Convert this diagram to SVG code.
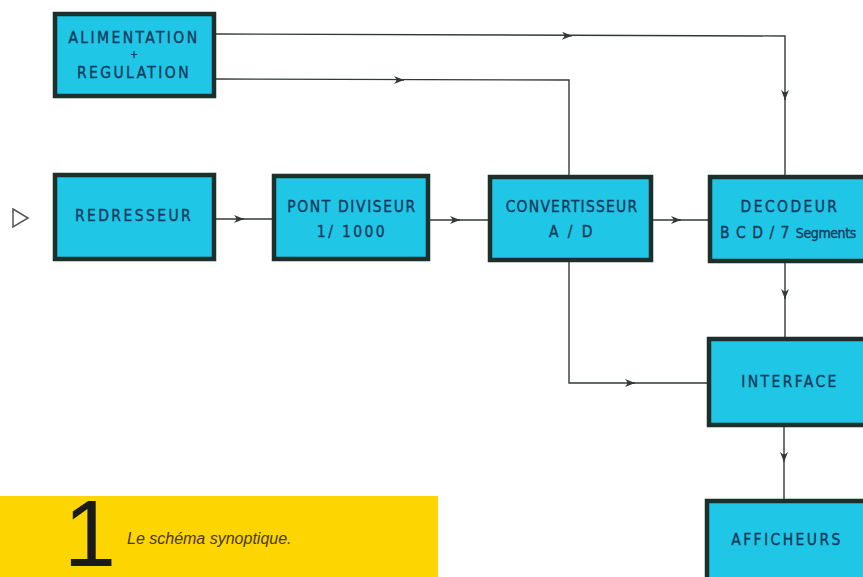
<svg xmlns="http://www.w3.org/2000/svg" width="863" height="577" viewBox="0 0 863 577">
<style>
.box{fill:#1fc6e6;stroke:#1b2f2b;stroke-width:4.5}
.t{font-family:"DejaVu Sans Condensed","DejaVu Sans",sans-serif;font-size:15.5px;fill:#163a5c;stroke:#163a5c;stroke-width:0.35;text-anchor:middle;letter-spacing:2.4px}
.c{fill:none;stroke:#333a36;stroke-width:1.4}
</style>
<defs>
<marker id="a" markerWidth="12" markerHeight="10" refX="10" refY="4.5" orient="auto" markerUnits="userSpaceOnUse">
<path d="M0,0.5 L10,4.5 L0,8.5 L3,4.5 Z" fill="#333a36"/>
</marker>
</defs>
<rect width="863" height="577" fill="#fff"/>
<g id="connectors">
<path class="c" d="M216,34 L785,36 L785,175"/>
<path class="c" d="M564,35.7 L572,35.8" marker-end="url(#a)"/>
<path class="c" d="M785,92 L785,100" marker-end="url(#a)"/>
<path class="c" d="M216,79 L569,80 L569,175"/>
<path class="c" d="M396,80 L404,80" marker-end="url(#a)"/>
<path class="c" d="M216,219 L272,219"/>
<path class="c" d="M236,219 L244,219" marker-end="url(#a)"/>
<path class="c" d="M430,220 L488,220"/>
<path class="c" d="M452,220 L460,220" marker-end="url(#a)"/>
<path class="c" d="M653,220 L708,220"/>
<path class="c" d="M673,220 L681,220" marker-end="url(#a)"/>
<path class="c" d="M785,263 L785,337"/>
<path class="c" d="M785,291 L785,299" marker-end="url(#a)"/>
<path class="c" d="M569,262 L569,383 L707,383"/>
<path class="c" d="M627,383 L635,383" marker-end="url(#a)"/>
<path class="c" d="M784,427 L784,499"/>
<path class="c" d="M784,454 L784,462" marker-end="url(#a)"/>
</g>
<g id="input">
<path d="M13,209 L28,218 L13,227 Z" fill="none" stroke="#555" stroke-width="1.5"/>
</g>
<g id="alimentation">
<rect class="box" x="55" y="14" width="159" height="82"/>
<text class="t" x="134" y="43">ALIMENTATION</text>
<text class="t" x="134" y="58" style="font-size:10px;letter-spacing:0">+</text>
<text class="t" x="134" y="78">REGULATION</text>
</g>
<g id="redresseur">
<rect class="box" x="55" y="175" width="159" height="84"/>
<text class="t" x="134" y="221">REDRESSEUR</text>
</g>
<g id="pont">
<rect class="box" x="274" y="176" width="154" height="83"/>
<text class="t" x="352" y="212" style="letter-spacing:1.6px">PONT DIVISEUR</text>
<text class="t" x="352" y="237">1/ 1000</text>
</g>
<g id="convertisseur">
<rect class="box" x="490" y="177" width="161" height="83"/>
<text class="t" x="572" y="212" style="letter-spacing:1.2px">CONVERTISSEUR</text>
<text class="t" x="572" y="237">A / D</text>
</g>
<g id="decodeur">
<rect class="box" x="710" y="177" width="160" height="84"/>
<text class="t" x="790" y="212">DECODEUR</text>
<text class="t" x="788" y="238" style="letter-spacing:1px">B C D / 7 <tspan style="font-size:14px;letter-spacing:-0.4px">Segments</tspan></text>
</g>
<g id="interface">
<rect class="box" x="709" y="339" width="160" height="86"/>
<text class="t" x="790" y="387">INTERFACE</text>
</g>
<g id="afficheurs">
<rect class="box" x="707" y="501" width="162" height="84"/>
<text class="t" x="787" y="545">AFFICHEURS</text>
</g>
<g id="caption">
<rect x="0" y="496" width="438" height="81" fill="#fdd500"/>
<text x="90" y="566" style="font-family:'Liberation Sans',sans-serif;font-size:94px;fill:#1a1a1a" text-anchor="middle">1</text>
<text x="127" y="544" style="font-family:'Liberation Sans',sans-serif;font-size:16px;font-style:italic;fill:#4a3a20">Le schéma synoptique.</text>
</g>
</svg>
